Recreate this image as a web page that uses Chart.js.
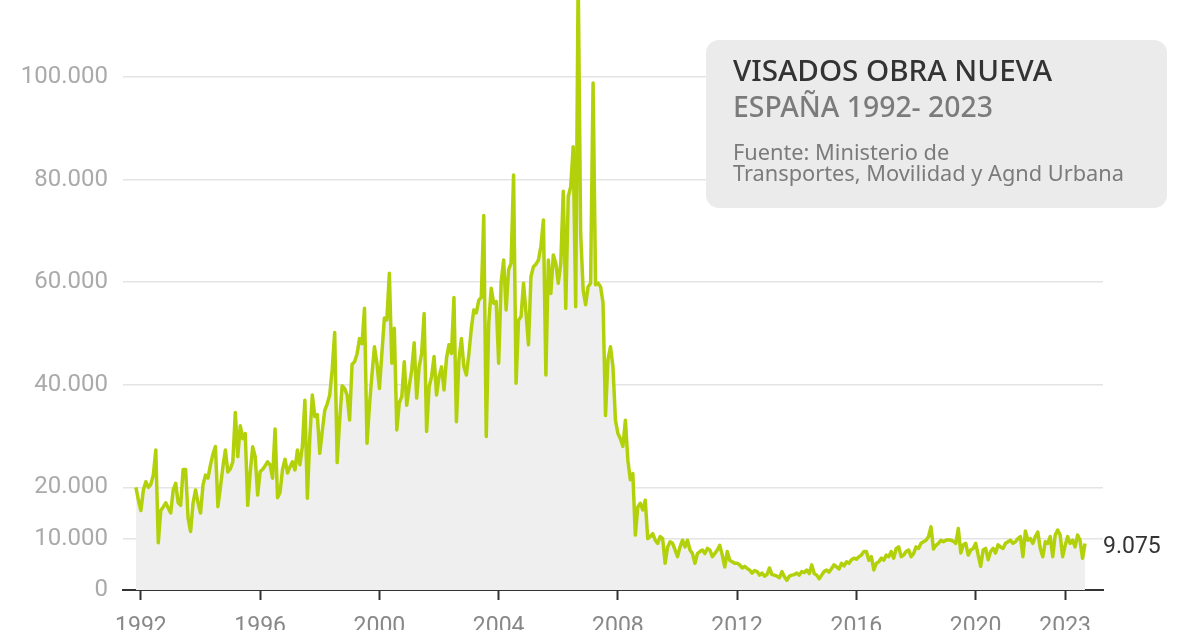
<!DOCTYPE html>
<html lang="es">
<head>
<meta charset="utf-8">
<title>Visados obra nueva</title>
<script src="https://cdn.jsdelivr.net/npm/chart.js@4/dist/chart.umd.min.js"></script>
<style>
  html, body { margin: 0; padding: 0; background: #fff; overflow: hidden; }
  #wrap { width: 1200px; height: 630px; position: relative; }
</style>
</head>
<body>
<div id="wrap"><canvas id="grafico" width="1200" height="630"></canvas></div>
<script>
// Serie mensual de visados de obra nueva (primer dato: noviembre 1991)
var inicioAnio = 1991;
var inicioMes = 11;
var visados = [
    20000, 17500,
    15500, 19500, 21100, 20000, 20600, 22400, 27300, 9200, 15500, 16200, 17000, 16000,      // 1992
    15000, 19500, 20800, 17000, 16500, 23500, 23500, 14000, 11400, 17000, 19500, 17000,     // 1993
    15000, 20500, 22400, 21800, 24400, 26500, 27950, 16250, 20000, 24000, 27300, 23000,     // 1994
    23600, 25000, 34600, 26000, 32000, 29500, 30500, 16500, 23000, 27900, 26000, 18500,     // 1995
    23100, 23500, 24200, 25000, 24400, 21800, 31400, 18000, 19000, 23500, 25500, 22800,     // 1996
    24000, 25000, 23400, 27300, 24400, 28000, 37000, 17900, 29900, 38000, 33800, 34200,     // 1997
    26650, 31000, 35000, 36300, 38000, 43000, 50200, 24830, 33150, 39800, 39300, 38000,     // 1998
    33150, 44000, 44500, 46000, 49000, 48000, 54900, 28600, 36000, 42000, 47400, 44200,     // 1999
    39300, 46150, 53000, 52650, 61750, 44200, 51000, 31200, 36500, 37700, 44500, 36000,     // 2000
    39650, 42900, 48200, 37400, 43500, 46100, 53900, 30900, 39600, 41600, 45500, 38000,     // 2001
    41600, 43500, 39000, 45200, 47800, 46100, 57000, 32800, 44800, 49000, 43500, 41900,     // 2002
    46000, 51000, 54600, 54000, 56500, 57000, 73000, 29900, 52000, 58800, 55900, 56200,     // 2003
    44200, 60000, 64300, 54600, 62400, 63700, 80900, 40300, 52600, 53300, 59800, 54000,     // 2004
    47800, 61100, 63000, 63500, 64300, 67000, 72100, 41900, 64300, 57800, 65300, 63700,     // 2005
    59800, 63700, 77700, 54900, 76700, 78600, 86400, 55200, 120000, 69500, 58500, 55600,    // 2006
    59100, 59800, 98800, 59500, 59800, 59100, 56000, 34000, 45000, 47400, 43500, 33100,     // 2007
    30500, 29500, 28000, 33100, 25300, 21500, 22700, 10700, 16200, 16900, 15600, 17500,     // 2008
    10000, 10400, 11000, 9700, 9100, 10400, 10000, 5200, 8400, 9400, 9100, 7800,            // 2009
    6500, 8400, 9700, 8400, 9700, 7800, 7100, 5200, 7100, 7500, 7800, 7100,                 // 2010
    8100, 7800, 6500, 7100, 7800, 8700, 6800, 4500, 7500, 5800, 5500, 5200,                 // 2011
    5200, 4900, 4300, 4600, 4200, 3900, 3300, 3800, 3600, 2900, 3300, 2700,                 // 2012
    3000, 4300, 3000, 2900, 2700, 2400, 3600, 2600, 1900, 2700, 2900, 3000,                 // 2013
    3300, 2900, 3600, 3400, 3900, 3200, 4900, 3200, 2900, 2200, 2900, 3600,                 // 2014
    3900, 3500, 4200, 4900, 4500, 4100, 5200, 4700, 5500, 5200, 5900, 6200,                 // 2015
    6000, 6500, 6800, 7500, 7500, 5800, 6500, 3900, 5200, 5500, 6200, 5800,                 // 2016
    6800, 6500, 7500, 6200, 8100, 8400, 6500, 6800, 7500, 7800, 6500, 7100,                 // 2017
    8400, 8100, 9100, 9400, 9700, 10400, 12300, 8000, 8700, 9100, 9700, 9400,               // 2018
    9700, 9800, 9700, 9500, 9100, 12000, 7200, 8800, 9100, 6800, 7800, 8100,                // 2019
    9100, 6800, 4600, 7800, 8100, 5900, 7500, 8100, 7200, 8800, 8400, 8100,                 // 2020
    9100, 9400, 9700, 9100, 9400, 10000, 10400, 6500, 11500, 9700, 10000, 9100,             // 2021
    10400, 11300, 8100, 6500, 9400, 9100, 10400, 6500, 10700, 11700, 10700, 6500,           // 2022
    8700, 10400, 9100, 9700, 8400, 10700, 9700, 6200, 9075                                  // 2023
];
var ticksAnios = [1992, 1996, 2000, 2004, 2008, 2012, 2016, 2020, 2023];
var ticksValores = [0, 10000, 20000, 40000, 60000, 80000, 100000];
var titulo = "VISADOS OBRA NUEVA";
var subtitulo = "ESPAÑA 1992- 2023";
var fuente = ["Fuente: Ministerio de", "Transportes, Movilidad y Agnd Urbana"];

// Puntos con x en años decimales
var puntos = visados.map(function (v, i) {
    return { x: inicioAnio + (inicioMes - 1 + i) / 12, y: v };
});

function miles(n) {
    return String(n).replace(/\B(?=(\d{3})+(?!\d))/g, ".");
}

// Ajusta el tamaño de letra para que el texto ocupe el ancho indicado
function fuenteAjustada(c, texto, peso, familia, ancho, base) {
    c.font = peso + " " + base + "px " + familia;
    var medido = c.measureText(texto).width;
    var tam = base * ancho / medido;
    tam = Math.max(base * 0.8, Math.min(base * 1.2, tam));
    return peso + " " + tam.toFixed(2) + "px " + familia;
}

// Caja con el título y la fuente
var cajaTitulo = {
    id: "cajaTitulo",
    afterDraw: function (chart) {
        var c = chart.ctx;
        c.save();
        c.fillStyle = "#ebebeb";
        c.beginPath();
        c.roundRect(706, 40, 461, 168, 13);
        c.fill();

        c.textAlign = "left";
        c.textBaseline = "alphabetic";
        var fam = '"Noto Sans", sans-serif';

        c.fillStyle = "#333333";
        c.font = fuenteAjustada(c, titulo, "500", fam, 319, 26);
        c.fillText(titulo, 733, 81);

        c.fillStyle = "#7b7b7b";
        c.font = fuenteAjustada(c, subtitulo, "500", fam, 260, 26);
        c.fillText(subtitulo, 733, 117);

        c.font = fuenteAjustada(c, fuente[1], "400", fam, 391, 19);
        c.fillText(fuente[0], 733, 160);
        c.fillText(fuente[1], 733, 181);
        c.restore();
    }
};

// Último valor a la derecha de la línea
var etiquetaFinal = {
    id: "etiquetaFinal",
    afterDraw: function (chart) {
        var meta = chart.getDatasetMeta(0);
        var ultimo = meta.data[meta.data.length - 1];
        var c = chart.ctx;
        c.save();
        c.fillStyle = "#333333";
        c.font = '23px Roboto, sans-serif';
        c.textAlign = "left";
        c.textBaseline = "middle";
        c.fillText(miles(visados[visados.length - 1]), ultimo.x + 18, ultimo.y + 4);
        c.restore();
    }
};

var ctx = document.getElementById("grafico").getContext("2d");
var grafico = new Chart(ctx, {
    type: "line",
    data: {
        datasets: [
            {
                label: "Visados",
                data: puntos,
                borderColor: "#b3d10a",
                borderWidth: 3.5,
                backgroundColor: "#efefef",
                fill: "origin",
                pointRadius: 0,
                tension: 0,
                borderJoinStyle: "round",
            },
        ],
    },
    options: {
        responsive: false,
        animation: false,
        layout: { padding: { left: 0, right: 97, top: 0, bottom: 0 } },
        plugins: {
            legend: { display: false },
            tooltip: { enabled: false },
        },
        scales: {
            x: {
                type: "linear",
                min: 1991.4,
                max: 2024.27,
                z: 1,
                afterBuildTicks: function (axis) {
                    axis.ticks = ticksAnios.map(function (v) { return { value: v }; });
                },
                afterFit: function (s) {
                    s.height = 40;
                    s.paddingLeft = 0;
                    s.paddingRight = 0;
                },
                grid: {
                    drawOnChartArea: false,
                    drawTicks: true,
                    tickLength: 10,
                    tickWidth: 2,
                    tickColor: "#333333",
                },
                border: { display: true, color: "#333333", width: 2 },
                ticks: {
                    padding: 13,
                    autoSkip: false,
                    maxRotation: 0,
                    color: "#888888",
                    font: { family: "Roboto", size: 23 },
                    callback: function (v) { return String(v); },
                },
            },
            y: {
                min: 0,
                max: 115000,
                afterBuildTicks: function (axis) {
                    axis.ticks = ticksValores.map(function (v) { return { value: v }; });
                },
                afterFit: function (s) {
                    s.width = 123;
                    s.paddingTop = 0;
                    s.paddingBottom = 0;
                },
                grid: {
                    drawTicks: false,
                    color: function (c) { return c.tick && c.tick.value === 0 ? "#333333" : "#e4e4e4"; },
                    lineWidth: function (c) { return c.tick && c.tick.value === 0 ? 2 : 1.5; },
                },
                border: { display: false },
                ticks: {
                    padding: 15,
                    autoSkip: false,
                    color: "#aaaaaa",
                    font: { family: "Roboto", size: 24 },
                    callback: function (v) { return miles(v); },
                },
            },
        },
    },
    plugins: [cajaTitulo, etiquetaFinal],
});
</script>
</body>
</html>
